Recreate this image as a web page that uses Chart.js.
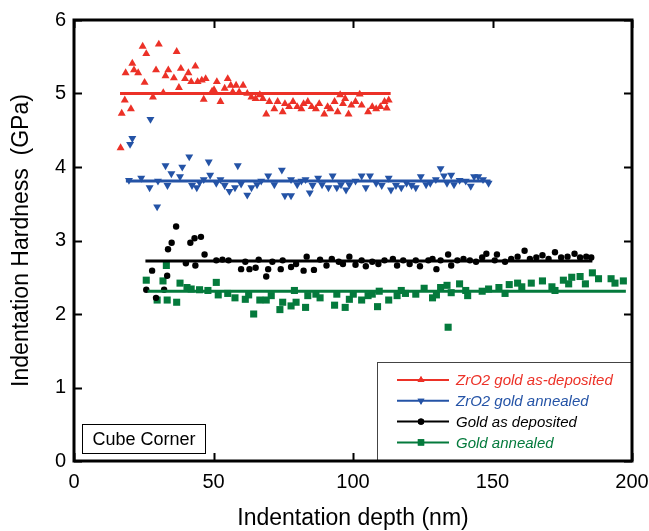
<!DOCTYPE html>
<html>
<head>
<meta charset="utf-8">
<script src="https://cdn.jsdelivr.net/npm/chart.js@4.4.1/dist/chart.umd.min.js"></script>
<style>
  html, body { margin: 0; padding: 0; background: #fff; }
  #wrap { position: relative; width: 649px; height: 531px; }
</style>
</head>
<body>
<div id="wrap"><canvas id="hardness-chart" width="649" height="531"></canvas></div>
<script>
// ZrO2 gold as-deposited (up triangles)
const redX = [16.7, 17.1, 18.2, 18.5, 20.4, 20.9, 21.5, 23, 24.6, 25.3, 25.9, 28.3, 29.4, 30.4, 32, 32.8, 33.8, 35.8, 36.8, 37.6, 38.3, 39.8, 41, 42, 43.5, 44.3, 45.8, 46.5, 47.2, 49.5, 50.2, 51.2, 52.5, 54, 55.1, 56.2, 56.9, 58.1, 59.2, 60.6, 62.1, 63.6, 65.1, 66.6, 67.7, 68.9, 70, 71.8, 73, 74.8, 75.6, 77.1, 78.5, 80, 81.5, 82.3, 83.8, 85.2, 86.7, 87.9, 89.7, 90.9, 91.9, 93.4, 94.5, 95.4, 96.4, 97.2, 98.4, 99.4, 100.9, 102.4, 103.1, 105.4, 106.9, 108.3, 109.8, 111.3, 112.1, 112.8];
const redY = [4.26, 4.73, 4.91, 5.28, 4.79, 5.41, 5.32, 5.28, 5.64, 5.15, 5.54, 4.95, 5.32, 5.67, 5.01, 5.24, 5.32, 5.21, 5.57, 5.08, 5.34, 5.2, 5.28, 5.16, 5.37, 5.16, 5.18, 4.92, 5.2, 5.03, 5.05, 5.16, 4.89, 5.07, 5.2, 5.11, 5.02, 5.11, 5.02, 5.11, 5.0, 4.95, 4.93, 4.98, 4.93, 4.72, 4.89, 4.79, 4.89, 4.75, 4.86, 4.82, 4.89, 4.82, 4.79, 4.86, 4.89, 4.82, 4.79, 4.86, 4.72, 4.82, 4.79, 4.89, 4.75, 4.98, 4.86, 4.93, 4.72, 4.84, 4.89, 4.99, 4.84, 4.75, 4.82, 4.79, 4.82, 4.89, 4.8, 4.91];

// ZrO2 gold annealed (down triangles)
const blueX = [19.7, 20.1, 20.9, 24.1, 27.1, 27.4, 29.8, 30.1, 32.8, 33.5, 34.9, 38, 38.8, 41.3, 42.3, 44, 45, 46.5, 48.3, 48.8, 51, 52.5, 54, 55.7, 57.7, 58.7, 59.9, 62.1, 63.6, 65.6, 67.1, 69.6, 71.8, 74.5, 75.6, 77.8, 77.8, 80, 81.5, 83, 84.5, 85.5, 87.5, 88.9, 91.2, 92.7, 94.2, 95.7, 97.5, 98.7, 100.9, 103.1, 104.6, 106.1, 108.3, 110.3, 112.8, 113.6, 115.4, 117.3, 119.2, 121, 122.5, 124.3, 126.2, 127.7, 129.7, 131.4, 132.6, 133.7, 135.2, 136.2, 138.2, 140.4, 142.2, 143.4, 144.9, 146.6, 148.6];
const blueY = [3.82, 4.31, 4.39, 3.85, 3.72, 4.65, 3.46, 3.81, 4.02, 3.75, 3.91, 3.87, 4.0, 4.14, 3.75, 3.72, 3.79, 3.83, 4.07, 3.89, 3.78, 3.83, 3.75, 3.67, 3.72, 4.02, 3.77, 3.62, 3.72, 3.76, 3.81, 3.88, 3.76, 3.96, 3.61, 3.61, 3.83, 3.76, 3.81, 3.83, 3.65, 3.75, 3.85, 3.76, 3.72, 3.88, 3.72, 3.76, 3.69, 3.76, 3.81, 3.88, 3.72, 3.88, 3.78, 3.75, 3.85, 3.69, 3.75, 3.72, 3.78, 3.75, 3.72, 3.87, 3.76, 3.78, 3.83, 3.98, 3.88, 3.78, 3.89, 3.76, 3.82, 3.81, 3.74, 3.87, 3.87, 3.83, 3.78];

// Gold as deposited (circles)
const blackX = [25.9, 28, 29.4, 32.3, 33.4, 33.7, 35, 36.6, 40.1, 41.7, 43.2, 43.5, 45.5, 46.8, 51, 53.2, 55.4, 59.9, 61.4, 62.9, 65.1, 66.2, 68.9, 69.6, 71.1, 74.1, 74.8, 77.8, 79.6, 82.3, 83.4, 86, 88.2, 90.5, 92.4, 94.9, 96.4, 98.7, 100.9, 103.1, 104.6, 106.9, 109.1, 111.3, 114.3, 115.8, 118, 120.3, 122.5, 124, 127, 128.5, 129.9, 131.4, 134.1, 135.2, 137.4, 139.6, 141.9, 144.1, 146.3, 147.8, 150.8, 151.6, 154.5, 156.7, 159, 161.5, 163.4, 165.7, 167.9, 170.1, 172.4, 174.6, 176.9, 179.4, 181.4, 183.6, 185.4];
const blackY = [2.33, 2.59, 2.22, 2.33, 2.52, 2.88, 2.97, 3.19, 2.69, 2.97, 3.03, 2.66, 3.05, 2.81, 2.73, 2.74, 2.73, 2.61, 2.71, 2.61, 2.63, 2.74, 2.51, 2.61, 2.71, 2.61, 2.73, 2.64, 2.68, 2.59, 2.78, 2.6, 2.74, 2.66, 2.75, 2.71, 2.68, 2.78, 2.67, 2.73, 2.65, 2.71, 2.68, 2.73, 2.75, 2.66, 2.73, 2.68, 2.73, 2.65, 2.73, 2.75, 2.61, 2.73, 2.81, 2.66, 2.73, 2.75, 2.73, 2.71, 2.77, 2.82, 2.73, 2.81, 2.71, 2.75, 2.78, 2.86, 2.75, 2.77, 2.8, 2.75, 2.84, 2.77, 2.78, 2.82, 2.77, 2.78, 2.77];

// Gold annealed (squares)
const greenX = [25.9, 29.8, 31.9, 33.1, 33.4, 36.8, 38, 40.5, 42, 45, 48, 51, 51.7, 55.1, 57.7, 61.4, 62.6, 64.4, 66.6, 68.9, 70.7, 73.8, 74.8, 77.8, 79, 79.6, 83, 83.8, 86.7, 88.2, 93.4, 94.2, 97.2, 98.7, 100.1, 103.1, 105.4, 106.9, 108.8, 109.4, 112.8, 115.8, 117.3, 118.8, 122.5, 125.5, 128.5, 129.9, 131.4, 133.7, 134.1, 135.2, 138.2, 140.4, 141.1, 146.3, 148.6, 152.3, 154.5, 156, 159, 160.5, 163.9, 167.9, 171.3, 172.4, 175.4, 177.3, 178.4, 181.4, 183.3, 185.8, 188, 192.5, 193.9, 196.9];
const greenY = [2.46, 2.19, 2.45, 2.66, 2.19, 2.16, 2.42, 2.36, 2.34, 2.33, 2.32, 2.43, 2.26, 2.28, 2.22, 2.2, 2.26, 2.0, 2.19, 2.19, 2.25, 2.06, 2.16, 2.11, 2.32, 2.16, 2.09, 2.25, 2.27, 2.22, 2.12, 2.27, 2.09, 2.2, 2.27, 2.19, 2.25, 2.27, 2.1, 2.31, 2.19, 2.25, 2.32, 2.28, 2.27, 2.35, 2.22, 2.26, 2.36, 2.39, 1.82, 2.29, 2.41, 2.32, 2.25, 2.31, 2.34, 2.36, 2.28, 2.4, 2.42, 2.37, 2.42, 2.45, 2.37, 2.32, 2.46, 2.41, 2.5, 2.51, 2.41, 2.56, 2.48, 2.48, 2.42, 2.45];

// average hardness lines: [start depth, end depth], value
const redFitX = [16.5, 113.5];
const redFitY = [5.0, 5.0];
const blueFitX = [18.6, 149.3];
const blueFitY = [3.81, 3.81];
const blackFitX = [25.6, 185.8];
const blackFitY = [2.72, 2.72];
const greenFitX = [26.4, 197.8];
const greenFitY = [2.31, 2.31];

const xTicks = [0, 50, 100, 150, 200];
const yTicks = [0, 1, 2, 3, 4, 5, 6];

const seriesNames = ['ZrO2 gold as-deposited', 'ZrO2 gold annealed', 'Gold as deposited', 'Gold annealed'];

const RED = '#ec3127';
const BLUE = '#2453a6';
const BLACK = '#000000';
const GREEN = '#047a3c';
const FONT = 'Arial, "Liberation Sans", Helvetica, sans-serif';

const toPoints = (xs, ys) => xs.map((x, i) => ({ x: x, y: ys[i] }));

const fitLine = (xs, ys, color) => ({
  data: toPoints(xs, ys),
  showLine: true,
  borderColor: color,
  borderWidth: 3,
  pointRadius: 0,
  fill: false
});

const pointSet = (label, xs, ys, color, style, radius, rotation) => ({
  label: label,
  data: toPoints(xs, ys),
  showLine: false,
  backgroundColor: color,
  borderColor: color,
  borderWidth: 0,
  pointStyle: style,
  pointRadius: radius,
  pointRotation: rotation || 0
});

// frame, inward ticks, legend box and "Cube Corner" label
const decorations = {
  id: 'decorations',
  afterDatasetsDraw(chart) {
    const { ctx, chartArea: a, scales } = chart;
    const xs = scales.x, ys = scales.y;
    ctx.save();
    ctx.strokeStyle = '#000';
    ctx.lineWidth = 2;
    xTicks.forEach(v => {
      const px = Math.round(xs.getPixelForValue(v)) + 0.5;
      ctx.beginPath();
      ctx.moveTo(px, a.bottom); ctx.lineTo(px, a.bottom - 8);
      ctx.moveTo(px, a.top); ctx.lineTo(px, a.top + 8);
      ctx.stroke();
    });
    yTicks.forEach(v => {
      const py = Math.round(ys.getPixelForValue(v)) + 0.5;
      ctx.beginPath();
      ctx.moveTo(a.left, py); ctx.lineTo(a.left + 8, py);
      ctx.moveTo(a.right, py); ctx.lineTo(a.right - 8, py);
      ctx.stroke();
    });

    // legend box
    const lx = 377, ly = 362;
    ctx.fillStyle = '#fff';
    ctx.fillRect(lx, ly, a.right - lx, a.bottom - ly);
    ctx.strokeStyle = '#444';
    ctx.lineWidth = 1;
    ctx.strokeRect(lx + 0.5, ly + 0.5, a.right - lx, a.bottom - ly);

    const colors = [RED, BLUE, BLACK, GREEN];
    const styles = ['triangle', 'triangle', 'circle', 'rect'];
    const rots = [0, 180, 0, 0];
    const radii = [4, 4, 3.2, 4.5];
    ctx.font = 'italic 15px ' + FONT;
    ctx.textBaseline = 'middle';
    seriesNames.forEach((name, i) => {
      const y = 380 + i * 20.8;
      ctx.strokeStyle = colors[i];
      ctx.fillStyle = colors[i];
      ctx.lineWidth = 2;
      ctx.beginPath();
      ctx.moveTo(397, y); ctx.lineTo(449, y);
      ctx.stroke();
      Chart.helpers.drawPoint(ctx, { pointStyle: styles[i], radius: radii[i], rotation: rots[i], borderWidth: 0 }, 421, y);
      ctx.fill();
      ctx.fillText(name, 456, y + 1);
    });

    // Cube Corner label
    ctx.fillStyle = '#fff';
    ctx.fillRect(82, 424, 123, 29);
    ctx.strokeStyle = '#000';
    ctx.lineWidth = 1;
    ctx.strokeRect(82.5, 424.5, 123, 29);
    ctx.fillStyle = '#000';
    ctx.font = '18px ' + FONT;
    ctx.textAlign = 'center';
    ctx.fillText('Cube Corner', 144, 440);

    // frame
    ctx.strokeStyle = '#000';
    ctx.lineWidth = 3;
    ctx.strokeRect(a.left, a.top, a.right - a.left, a.bottom - a.top);
    ctx.restore();
  }
};

const ctx = document.getElementById('hardness-chart').getContext('2d');

new Chart(ctx, {
  type: 'scatter',
  data: {
    datasets: [
      fitLine(redFitX, redFitY, RED),
      fitLine(blueFitX, blueFitY, BLUE),
      fitLine(blackFitX, blackFitY, BLACK),
      fitLine(greenFitX, greenFitY, GREEN),
      pointSet(seriesNames[0], redX, redY, RED, 'triangle', 4.6),
      pointSet(seriesNames[1], blueX, blueY, BLUE, 'triangle', 4.6, 180),
      pointSet(seriesNames[2], blackX, blackY, BLACK, 'circle', 3.2),
      pointSet(seriesNames[3], greenX, greenY, GREEN, 'rect', 5)
    ]
  },
  options: {
    responsive: false,
    animation: false,
    layout: { padding: { top: 20, right: 17, left: 0, bottom: 0 } },
    plugins: { legend: { display: false }, tooltip: { enabled: false } },
    scales: {
      x: {
        type: 'linear',
        min: 0, max: 200,
        afterFit: (s) => { s.height = 70; s.paddingLeft = 0; s.paddingRight = 0; },
        afterBuildTicks: (s) => { s.ticks = xTicks.map(v => ({ value: v })); },
        grid: { display: false, drawTicks: false },
        border: { display: false },
        ticks: { color: '#000', font: { family: FONT, size: 20 }, padding: 9, maxRotation: 0 },
        title: { display: true, text: 'Indentation depth (nm)', color: '#000', font: { family: FONT, size: 23 }, padding: { top: 6, bottom: -1 } }
      },
      y: {
        type: 'linear',
        min: 0, max: 6,
        afterFit: (s) => { s.width = 74; s.paddingTop = 0; s.paddingBottom = 0; },
        afterBuildTicks: (s) => { s.ticks = yTicks.map(v => ({ value: v })); },
        grid: { display: false, drawTicks: false },
        border: { display: false },
        ticks: { color: '#000', font: { family: FONT, size: 20 }, padding: 8 },
        title: { display: true, text: 'Indentation Hardness  (GPa)', color: '#000', font: { family: FONT, size: 23 }, padding: { top: 8, bottom: 0 } }
      }
    }
  },
  plugins: [decorations]
});
</script>
</body>
</html>
